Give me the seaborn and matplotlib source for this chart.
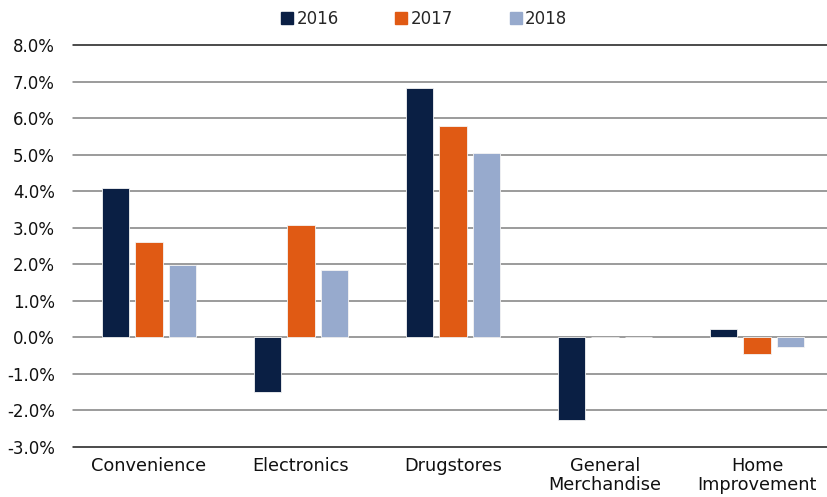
import matplotlib
matplotlib.use("Agg")
import matplotlib.pyplot as plt
import seaborn as sns
import pandas as pd
from matplotlib.ticker import FuncFormatter, MultipleLocator

categories = ["Convenience", "Electronics", "Drugstores", "General\nMerchandise", "Home\nImprovement"]
years = ["2016", "2017", "2018"]
v2016 = [4.08, -1.49, 6.81, -2.26, 0.23]
v2017 = [2.62, 3.08, 5.79, 0.02, -0.45]
v2018 = [1.99, 1.85, 5.05, 0.02, -0.27]
colors = ["#0A1F44", "#E05A14", "#97AACD"]

rows = []
for yr, vals in zip(years, [v2016, v2017, v2018]):
    for c, v in zip(categories, vals):
        rows.append({"category": c, "year": yr, "value": v})
df = pd.DataFrame(rows)

sns.set_theme(style="white")
plt.rcParams['font.family'] = ['DejaVu Sans']

fig = plt.figure(figsize=(8.27, 4.97), dpi=100)
ax = fig.add_axes([73 / 827, 50 / 497, 760 / 827, 402 / 497])

sns.barplot(data=df, x="category", y="value", hue="year", palette=colors,
            order=categories, hue_order=years, width=0.666, gap=0.19,
            saturation=1, ax=ax, edgecolor="#f4f4f4", linewidth=0.6, zorder=3)

ax.set_ylim(-3, 8)
ax.set_xlim(-0.5, 4.5)
ax.yaxis.set_major_locator(MultipleLocator(1))
ax.yaxis.set_major_formatter(FuncFormatter(lambda v, p: f"{v:.1f}%".replace("\u2212", "-")))
for y in range(-3, 9):
    col = "#1a1a1a" if y in (-3, 8) else "#808080"
    ax.axhline(y, color=col, lw=1.1, zorder=1, clip_on=False)
for s in ax.spines.values():
    s.set_visible(False)
ax.set_xlabel("")
ax.set_ylabel("")
ax.tick_params(axis="y", labelsize=12, pad=13, length=0, colors="#111111")
ax.tick_params(axis="x", labelsize=12.8, pad=7, length=0, colors="#111111")
for t in ax.get_xticklabels():
    t.set_linespacing(1.12)

ax.legend_.remove()
handles = [plt.Rectangle((0, 0), 1, 1, color=c) for c in colors]
fig.legend(handles, years, loc="center", bbox_to_anchor=(0.513, 0.962), ncol=3, frameon=False,
           fontsize=12, handlelength=0.72, handleheight=0.72, handletextpad=0.2,
           columnspacing=3.4)

fig.savefig("out.png", dpi=100)
